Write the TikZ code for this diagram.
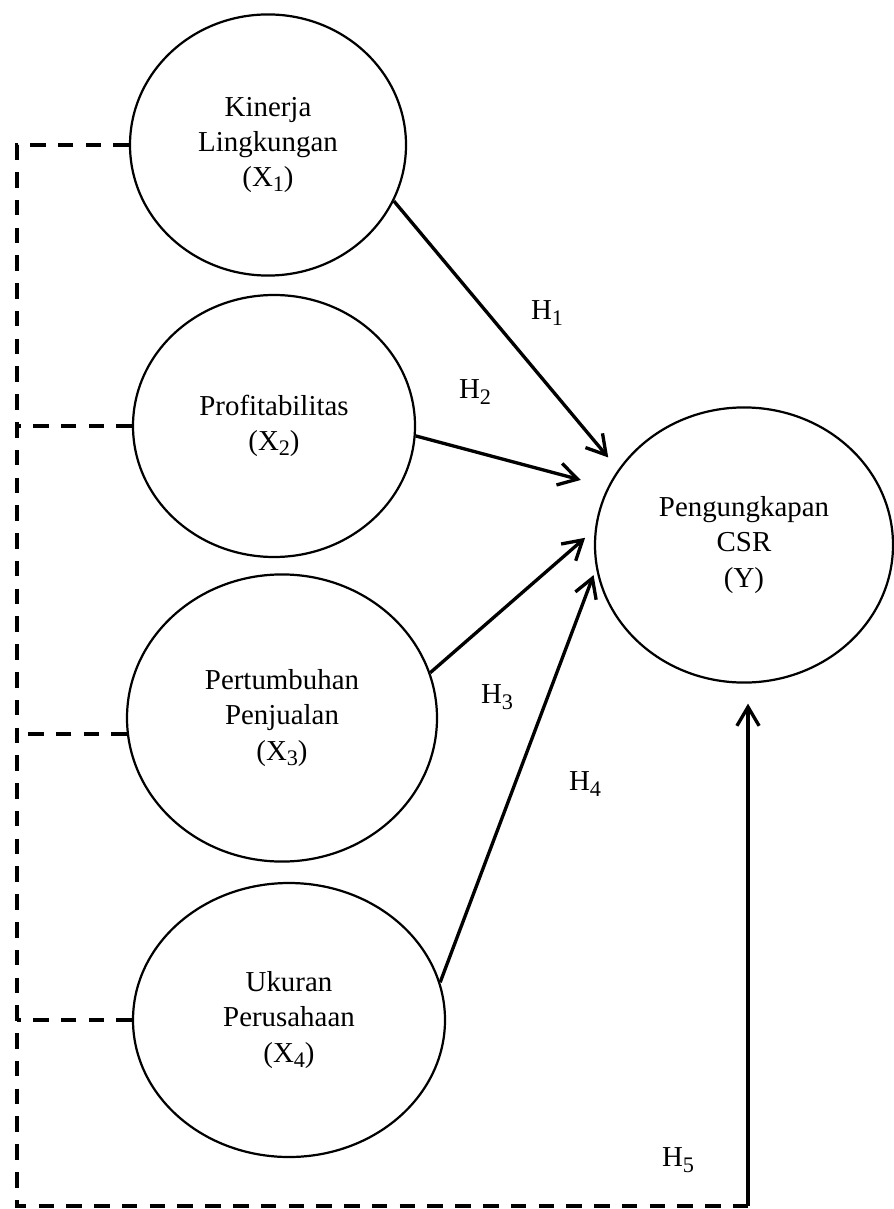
\documentclass[tikz,border=0pt]{standalone}
\usepackage{fontspec}
\setmainfont{Liberation Serif}
\usetikzlibrary{shapes.geometric,arrows.meta}
\newcommand{\idx}[1]{\raisebox{-0.4ex}{\fontsize{10}{10}\selectfont #1}}

\begin{document}
\begin{tikzpicture}[x=0.45pt,y=-0.45pt,
   var/.style={draw,ellipse,line width=1pt,inner sep=0pt,align=center,font=\fontsize{13}{15.8}\selectfont},
   arr/.style={line width=1.5pt,-{Straight Barb[length=8.5pt,width=10pt]}},
   dashline/.style={line width=1.7pt,dash pattern=on 7pt off 5.5pt},
   hyp/.style={font=\fontsize{13}{15.8}\selectfont}]
   \useasboundingbox (0,0) rectangle (894,1209);
   \node[var,minimum width=124.2pt,minimum height=117.5pt] (X1) at (268,145) {Kinerja\\Lingkungan\\(X\idx{1})};
   \node[var,minimum width=126.9pt,minimum height=117.9pt] (X2) at (274,426) {Profitabilitas\\(X\idx{2})};
   \node[var,minimum width=139.5pt,minimum height=129.2pt] (X3) at (282,718) {Pertumbuhan\\Penjualan\\(X\idx{3})};
   \node[var,minimum width=140.4pt,minimum height=123.3pt] (X4) at (289,1020) {Ukuran\\Perusahaan\\(X\idx{4})};
   \node[var,minimum width=134.1pt,minimum height=123.8pt] (Y) at (744,545) {Pengungkapan\\CSR\\(Y)};

   \coordinate (bl) at (17,1206);
   \coordinate (br) at (748,1206);
   \draw[dashline] (X1.west) -| (bl) -- (br);
   \draw[dashline] (X2.west) -- (X2.west -| bl);
   \draw[dashline] (X3.186) -- (X3.186 -| bl);
   \draw[dashline] (X4.west) -- (X4.west -| bl);

   \draw[arr,shorten >=7pt] (X1.-24.5) -- (Y.149.5);
   \draw[arr,shorten >=12.5pt] (X2.-4.5) -- (Y.157);
   \draw[arr,shorten >=5.8pt] (X3.17.5) -- (Y.174.7);
   \draw[arr,shorten >=3.2pt] (X4.14.3) -- (Y.-171.5);
   \draw[arr,shorten >=9pt] (br) -- (br |- Y.south);

   \node[hyp] (h1) at (547,313) {H\idx{1}};
   \node[hyp] (h2) at (475,392) {H\idx{2}};
   \node[hyp] (h3) at (497,697) {H\idx{3}};
   \node[hyp] (h4) at (585,784) {H\idx{4}};
   \node[hyp] (h5) at (678,1160) {H\idx{5}};
\end{tikzpicture}
\end{document}
